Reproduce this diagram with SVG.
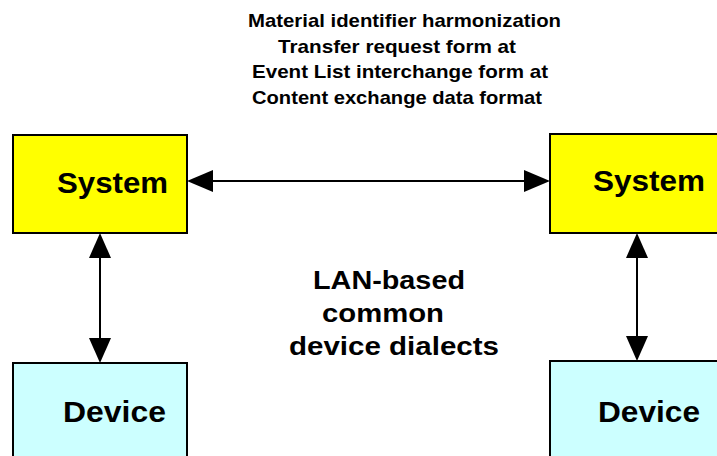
<svg xmlns="http://www.w3.org/2000/svg" width="717" height="456" viewBox="0 0 717 456">
<style>
.sys{fill:#FFFF00;stroke:#000;stroke-width:2}
.dev{fill:#CCFFFF;stroke:#000;stroke-width:2}
.lbl{font-family:"Liberation Sans",Arial,sans-serif;font-weight:bold;fill:#000}
.big{font-size:30px}
.top{font-size:19px}
.mid{font-size:25px}
.ln{stroke:#000;stroke-width:2;fill:none}
.hd{fill:#000}
</style>
<rect width="717" height="456" fill="#fff"/>
<g id="label-top">
<text class="lbl top" x="248" y="27" textLength="313" lengthAdjust="spacingAndGlyphs">Material identifier harmonization</text>
<text class="lbl top" x="278" y="53" textLength="238" lengthAdjust="spacingAndGlyphs">Transfer request form at</text>
<text class="lbl top" x="252" y="78" textLength="296" lengthAdjust="spacingAndGlyphs">Event List interchange form at</text>
<text class="lbl top" x="252" y="104" textLength="290" lengthAdjust="spacingAndGlyphs">Content exchange data format</text>
</g>
<g id="label-mid">
<text class="lbl mid" x="313" y="289" textLength="152" lengthAdjust="spacingAndGlyphs">LAN-based</text>
<text class="lbl mid" x="322" y="322" textLength="122" lengthAdjust="spacingAndGlyphs">common</text>
<text class="lbl mid" x="289" y="355" textLength="210" lengthAdjust="spacingAndGlyphs">device dialects</text>
</g>
<g id="connectors">
<line class="ln" x1="200" y1="181" x2="537" y2="181"/>
<polygon class="hd" points="187,181 213,170 213,192"/>
<polygon class="hd" points="550,181 524,170 524,192"/>
<line class="ln" x1="100" y1="245" x2="100" y2="350"/>
<polygon class="hd" points="100,233 89,258 111,258"/>
<polygon class="hd" points="100,363 89,338 111,338"/>
<line class="ln" x1="637" y1="245" x2="637" y2="348"/>
<polygon class="hd" points="637,233 626,258 648,258"/>
<polygon class="hd" points="637,361 626,336 648,336"/>
</g>
<g id="system-left">
<rect class="sys" x="13" y="135" width="174" height="98"/>
<text class="lbl big" x="57" y="193" textLength="111" lengthAdjust="spacingAndGlyphs">System</text>
</g>
<g id="system-right">
<rect class="sys" x="550" y="134" width="180" height="99"/>
<text class="lbl big" x="593" y="191" textLength="112" lengthAdjust="spacingAndGlyphs">System</text>
</g>
<g id="device-left">
<rect class="dev" x="13" y="363" width="174" height="110"/>
<text class="lbl big" x="63" y="422" textLength="103" lengthAdjust="spacingAndGlyphs">Device</text>
</g>
<g id="device-right">
<rect class="dev" x="550" y="361" width="180" height="110"/>
<text class="lbl big" x="598" y="422" textLength="102" lengthAdjust="spacingAndGlyphs">Device</text>
</g>
</svg>
